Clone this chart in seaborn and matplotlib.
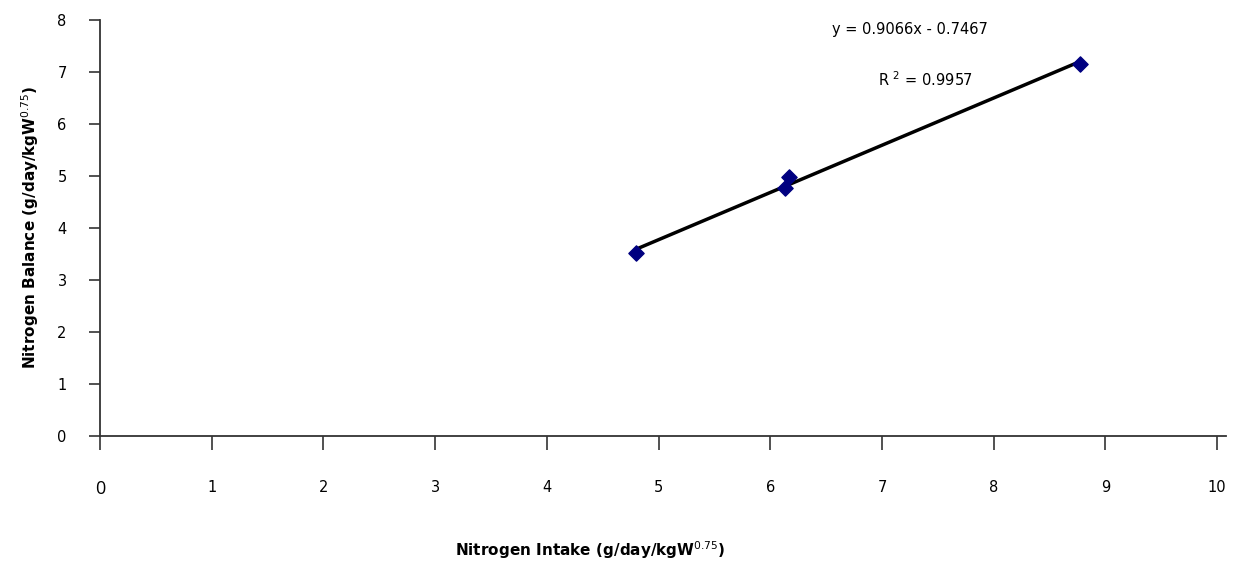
import numpy as np
import pandas as pd
import matplotlib
matplotlib.use("Agg")
import matplotlib.pyplot as plt
import seaborn as sns

# data
intake = [4.80, 6.13, 6.17, 8.77]
balance = [3.52, 4.77, 4.98, 7.16]
x_ticks = [0, 1, 2, 3, 4, 5, 6, 7, 8, 9, 10]
y_ticks = [0, 1, 2, 3, 4, 5, 6, 7, 8]
eq_text = "y = 0.9066x - 0.7467"
r2_text = r"R $^{\mathsf{2}}$ = 0.9957"

df = pd.DataFrame({"intake": intake, "balance": balance})

sns.set_style("ticks")
plt.rcParams["font.family"] = ["DejaVu Sans"]
plt.rcParams["text.color"] = "black"
plt.rcParams["axes.labelcolor"] = "black"

fig = plt.figure(figsize=(12.38, 5.67), dpi=100)
ax = fig.add_axes([100 / 1238, 1 - 436 / 567, 1126 / 1238, 416 / 567])

sns.regplot(data=df, x="intake", y="balance", ax=ax, ci=None, truncate=True,
            marker="D",
            scatter_kws={"s": 60, "color": "#000080", "edgecolor": "#000080",
                         "alpha": 1, "zorder": 3},
            line_kws={"color": "black", "lw": 2.5, "zorder": 2})

ax.set_xlim(0, 10.08)
ax.set_ylim(0, 8)
ax.set_xticks(x_ticks)
ax.set_yticks(y_ticks)
ax.set_xticklabels([str(t) for t in x_ticks])
ax.tick_params(axis="x", length=10, width=1.2, pad=22, labelsize=10.5, colors="#333333")
ax.tick_params(axis="y", length=8, width=1.2, pad=16, labelsize=10.5, colors="#333333")
for lab in ax.get_xticklabels() + ax.get_yticklabels():
    lab.set_color("black")
first = ax.get_xticklabels()[0]
first.set_fontsize(13)
first.set_family("Open Sans")

for side in ["top", "right"]:
    ax.spines[side].set_visible(False)
for side in ["left", "bottom"]:
    ax.spines[side].set_color("#333333")
    ax.spines[side].set_linewidth(1.3)

ax.set_xlabel(r"Nitrogen Intake (g/day/kgW$^{0.75}$)", fontsize=11, fontweight="bold",
              va="center")
ax.set_ylabel(r"Nitrogen Balance (g/day/kgW$^{0.75}$)", fontsize=11, fontweight="bold",
              va="center")
ax.xaxis.set_label_coords(0.435, -0.274)
ax.yaxis.set_label_coords(-0.062, 0.5)

ax.text(7.25, 7.81, eq_text, ha="center", va="center", fontsize=10.5)
ax.text(7.39, 6.85, r2_text, ha="center", va="center", fontsize=10.5)

fig.savefig("out.png", dpi=100)
